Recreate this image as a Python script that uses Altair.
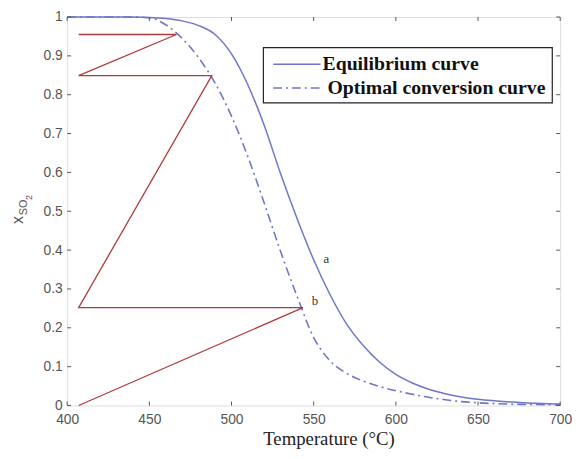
import altair as alt
import pandas as pd

# ---------------- data ----------------
T_eq = [400, 420, 440, 450, 460, 470, 480, 490, 500, 510, 520, 530, 540, 550,
        560, 570, 580, 590, 600, 610, 620, 635, 650, 675, 700]
X_eq = [1.0, 1.0, 1.0, 0.999, 0.996, 0.99, 0.978, 0.955, 0.905, 0.825, 0.72, 0.595,
        0.48, 0.375, 0.285, 0.21, 0.155, 0.112, 0.08, 0.058, 0.042, 0.026, 0.016,
        0.008, 0.004]

T_opt = [400, 420, 440, 450, 460, 470, 480, 490, 500, 510, 520, 530, 540, 550,
         560, 570, 580, 590, 600, 610, 620, 630, 640, 650, 675, 700]
X_opt = [1.0, 1.0, 1.0, 0.998, 0.98, 0.945, 0.895, 0.83, 0.745, 0.64, 0.52, 0.395,
         0.28, 0.175, 0.115, 0.083, 0.063, 0.049, 0.038, 0.029, 0.021, 0.015, 0.01,
         0.007, 0.003, 0.002]

T_path = [407, 543.5, 407, 488, 407, 466.5, 407]
X_path = [0.0, 0.252, 0.252, 0.849, 0.849, 0.955, 0.955]

label_text = ["a", "b"]
label_T = [556, 548.8]
label_X = [0.376, 0.269]

x_ticks = [400, 450, 500, 550, 600, 650, 700]
y_ticks = [0, 0.1, 0.2, 0.3, 0.4, 0.5, 0.6, 0.7, 0.8, 0.9, 1.0]

legend_labels = ["Equilibrium curve", "Optimal conversion curve"]

W, H = 500, 394
BLUE = "#6f76c8"
RED = "#b03a3a"
AX = "#555555"

eq_df = pd.DataFrame({"T": T_eq, "X": X_eq})
opt_df = pd.DataFrame({"T": T_opt, "X": X_opt})
path_df = pd.DataFrame({"T": T_path, "X": X_path, "o": list(range(len(T_path)))})
lab_df = pd.DataFrame({"T": label_T, "X": label_X, "t": label_text})
xt_df = pd.DataFrame({"T": x_ticks})
yt_df = pd.DataFrame({"X": y_ticks})

xscale = alt.Scale(domain=[400, 700], nice=False, zero=False)
yscale = alt.Scale(domain=[0, 1], nice=False)

xaxis = alt.Axis(values=x_ticks, format="d", title="Temperature (°C)", grid=False,
                 domain=False, ticks=False, labelPadding=7, labelFlush=False,
                 labelOverlap=False,
                 labelFont="Liberation Sans", labelFontSize=14, labelColor="#555555",
                 titleFont="Liberation Serif", titleFontSize=19, titleFontWeight="normal",
                 titleColor="#222222", titlePadding=4, titleX=265, titleAnchor="middle")
yaxis = alt.Axis(values=y_ticks, format="~g", title=None, grid=False, domain=False,
                 ticks=False, labelPadding=5, labelFlush=False, labelOverlap=False,
                 labelFont="Liberation Sans", labelFontSize=14, labelColor="#555555")

X = alt.X("T:Q", scale=xscale, axis=xaxis)
Y = alt.Y("X:Q", scale=yscale, axis=yaxis)

eq = alt.Chart(eq_df).mark_line(color=BLUE, strokeWidth=1.5, interpolate="monotone").encode(
    x=X, y=Y)
opt = alt.Chart(opt_df).mark_line(color=BLUE, strokeWidth=1.6, strokeDash=[9, 4, 2, 4],
                                  interpolate="monotone").encode(x=X, y=Y)
path = alt.Chart(path_df).mark_line(color=RED, strokeWidth=1.3).encode(
    x=X, y=Y, order="o:Q")
labs = alt.Chart(lab_df).mark_text(font="Liberation Serif", fontSize=13, color="#333333",
                                   align="left").encode(x=X, y=Y, text="t:N")

# inward ticks (MATLAB style)
xt_bot = alt.Chart(xt_df).mark_rule(color=AX, strokeWidth=1).encode(
    x=X, y=alt.value(H), y2=alt.value(H - 4))
xt_top = alt.Chart(xt_df).mark_rule(color=AX, strokeWidth=1).encode(
    x=X, y=alt.value(0), y2=alt.value(4))
yt_left = alt.Chart(yt_df).mark_rule(color=AX, strokeWidth=1).encode(
    y=Y, x=alt.value(0), x2=alt.value(4))
yt_right = alt.Chart(yt_df).mark_rule(color=AX, strokeWidth=1).encode(
    y=Y, x=alt.value(W), x2=alt.value(W - 4))

# y-axis title x_{SO_2}
yt1 = alt.Chart(pd.DataFrame({"t": ["x"]})).mark_text(
    font="Liberation Sans", fontSize=16, color="#555555", angle=270).encode(
    x=alt.value(-50), y=alt.value(206), text="t:N")
yt2 = alt.Chart(pd.DataFrame({"t": ["SO"]})).mark_text(
    font="Liberation Sans", fontSize=11, color="#555555", angle=270).encode(
    x=alt.value(-44), y=alt.value(193), text="t:N")
yt3 = alt.Chart(pd.DataFrame({"t": ["2"]})).mark_text(
    font="Liberation Sans", fontSize=9, color="#555555", angle=270).encode(
    x=alt.value(-39), y=alt.value(183), text="t:N")

# legend box
leg_box = alt.Chart(pd.DataFrame({"a": [0]})).mark_rect(
    fill="white", stroke="#222222", strokeWidth=1.2).encode(
    x=alt.value(199), x2=alt.value(492), y=alt.value(31), y2=alt.value(87))
leg_l1 = alt.Chart(pd.DataFrame({"a": [0]})).mark_rule(color=BLUE, strokeWidth=1.5).encode(
    x=alt.value(209), x2=alt.value(257), y=alt.value(48))
leg_l2 = alt.Chart(pd.DataFrame({"a": [0]})).mark_rule(
    color=BLUE, strokeWidth=1.5, strokeDash=[9, 4, 2, 4]).encode(
    x=alt.value(209), x2=alt.value(257), y=alt.value(72))
leg_t1 = alt.Chart(pd.DataFrame({"t": [legend_labels[0]]})).mark_text(
    font="Liberation Serif", fontWeight="bold", fontSize=20, color="#111111",
    align="left", baseline="middle").encode(
    x=alt.value(259), y=alt.value(48), text="t:N")
leg_t2 = alt.Chart(pd.DataFrame({"t": [legend_labels[1]]})).mark_text(
    font="Liberation Serif", fontWeight="bold", fontSize=20, color="#111111",
    align="left", baseline="middle").encode(
    x=alt.value(264), y=alt.value(72), text="t:N")

chart = alt.layer(
    eq, opt, path, labs, xt_bot, xt_top, yt_left, yt_right, yt1, yt2, yt3,
    leg_box, leg_l1, leg_l2, leg_t1, leg_t2
).properties(
    width=W, height=H,
    autosize=alt.AutoSizeParams(type="none"),
    padding={"left": 60, "top": 6, "right": 12, "bottom": 43},
).configure_view(
    stroke=AX, strokeWidth=1.5
).configure(background="white")

chart.save("out.html", embed_options={"renderer": "svg", "actions": False})
